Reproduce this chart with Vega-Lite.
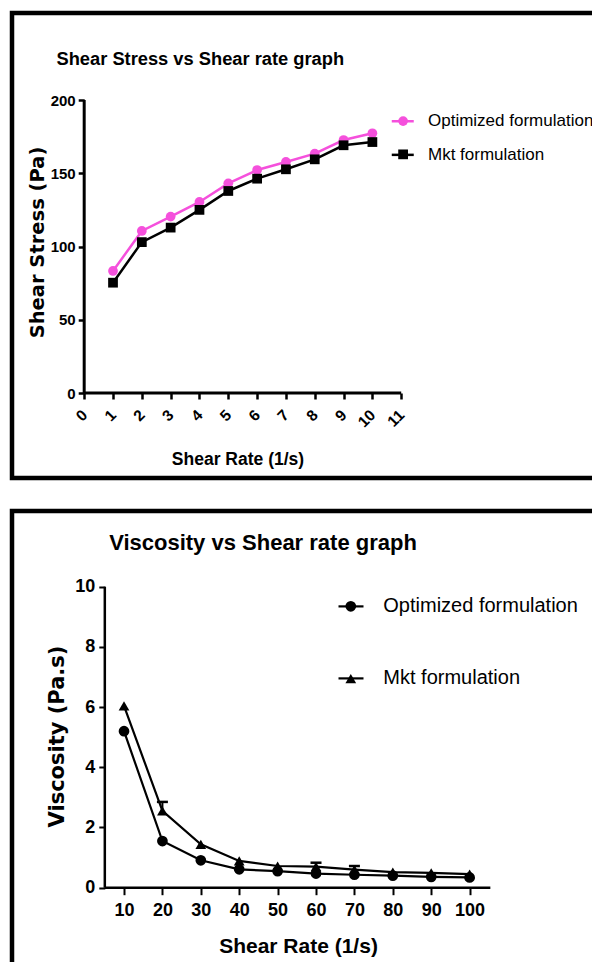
{
  "$schema": "https://vega.github.io/schema/vega-lite/v6.json",
  "background": "white",
  "padding": {"left": 9, "top": 10, "right": 0, "bottom": 0},
  "bounds": "flush",
  "spacing": 33,
  "resolve": {
    "scale": {"color": "independent", "fill": "independent", "shape": "independent"},
    "legend": {"color": "independent", "fill": "independent", "shape": "independent"}
  },
  "config": {
    "view": {"stroke": "black", "strokeWidth": 4.5},
    "axis": {
      "domain": false,
      "grid": false,
      "tickColor": "black",
      "tickWidth": 2.5,
      "tickSize": 6,
      "labelColor": "black",
      "titleColor": "black",
      "labelFontWeight": "bold",
      "titleFontWeight": "bold",
      "labelFlush": false,
      "labelOverlap": false,
      "labelBound": false
    },
    "legend": {"padding": 0, "titlePadding": 0, "labelColor": "black", "title": null}
  },
  "datasets": {
    "stress": [
      {"rate": 1, "stress": 83.3, "formulation": "Optimized formulation"},
      {"rate": 2, "stress": 110.6, "formulation": "Optimized formulation"},
      {"rate": 3, "stress": 120.4, "formulation": "Optimized formulation"},
      {"rate": 4, "stress": 130.4, "formulation": "Optimized formulation"},
      {"rate": 5, "stress": 143.1, "formulation": "Optimized formulation"},
      {"rate": 6, "stress": 152.2, "formulation": "Optimized formulation"},
      {"rate": 7, "stress": 157.7, "formulation": "Optimized formulation"},
      {"rate": 8, "stress": 163.4, "formulation": "Optimized formulation"},
      {"rate": 9, "stress": 172.7, "formulation": "Optimized formulation"},
      {"rate": 10, "stress": 177.3, "formulation": "Optimized formulation"},
      {"rate": 1, "stress": 75.3, "formulation": "Mkt formulation"},
      {"rate": 2, "stress": 103.0, "formulation": "Mkt formulation"},
      {"rate": 3, "stress": 112.9, "formulation": "Mkt formulation"},
      {"rate": 4, "stress": 125.0, "formulation": "Mkt formulation"},
      {"rate": 5, "stress": 137.9, "formulation": "Mkt formulation"},
      {"rate": 6, "stress": 146.3, "formulation": "Mkt formulation"},
      {"rate": 7, "stress": 152.7, "formulation": "Mkt formulation"},
      {"rate": 8, "stress": 159.5, "formulation": "Mkt formulation"},
      {"rate": 9, "stress": 169.1, "formulation": "Mkt formulation"},
      {"rate": 10, "stress": 171.3, "formulation": "Mkt formulation"}
    ],
    "viscosity": [
      {"rate": 10, "viscosity": 5.2, "formulation": "Optimized formulation"},
      {"rate": 20, "viscosity": 1.55, "formulation": "Optimized formulation"},
      {"rate": 30, "viscosity": 0.91, "formulation": "Optimized formulation"},
      {"rate": 40, "viscosity": 0.61, "formulation": "Optimized formulation"},
      {"rate": 50, "viscosity": 0.55, "formulation": "Optimized formulation"},
      {"rate": 60, "viscosity": 0.47, "formulation": "Optimized formulation"},
      {"rate": 70, "viscosity": 0.43, "formulation": "Optimized formulation"},
      {"rate": 80, "viscosity": 0.4, "formulation": "Optimized formulation"},
      {"rate": 90, "viscosity": 0.36, "formulation": "Optimized formulation"},
      {"rate": 100, "viscosity": 0.34, "formulation": "Optimized formulation"},
      {"rate": 10, "viscosity": 6.04, "formulation": "Mkt formulation"},
      {"rate": 20, "viscosity": 2.55, "formulation": "Mkt formulation"},
      {"rate": 30, "viscosity": 1.44, "formulation": "Mkt formulation"},
      {"rate": 40, "viscosity": 0.89, "formulation": "Mkt formulation"},
      {"rate": 50, "viscosity": 0.72, "formulation": "Mkt formulation"},
      {"rate": 60, "viscosity": 0.7, "formulation": "Mkt formulation"},
      {"rate": 70, "viscosity": 0.6, "formulation": "Mkt formulation"},
      {"rate": 80, "viscosity": 0.52, "formulation": "Mkt formulation"},
      {"rate": 90, "viscosity": 0.49, "formulation": "Mkt formulation"},
      {"rate": 100, "viscosity": 0.45, "formulation": "Mkt formulation"}
    ],
    "viscosityError": [
      {"rate": 20, "mean": 2.55, "upper": 2.85, "formulation": "Mkt formulation"},
      {"rate": 60, "mean": 0.7, "upper": 0.83, "formulation": "Mkt formulation"},
      {"rate": 70, "mean": 0.6, "upper": 0.72, "formulation": "Mkt formulation"}
    ]
  },
  "vconcat": [
    {
      "width": 600,
      "height": 465,
      "title": {
        "text": "Shear Stress vs Shear rate graph",
        "anchor": "start",
        "frame": "group",
        "align": "left",
        "baseline": "alphabetic",
        "dx": 44.5,
        "offset": -70.5,
        "font": "Liberation Sans, Arial, sans-serif",
        "fontSize": 18.3,
        "fontWeight": "bold",
        "color": "black"
      },
      "layer": [
        {
          "data": {"values": [{}]},
          "mark": {"type": "rule", "strokeWidth": 3, "color": "black"},
          "encoding": {
            "x": {
              "datum": 0, "type": "quantitative",
              "scale": {"domain": [-2.505, 18.314], "nice": false, "zero": false},
              "axis": {
                "values": [0, 1, 2, 3, 4, 5, 6, 7, 8, 9, 10, 11],
                "offset": -85,
                "labelAngle": -45,
                "labelAlign": "right",
                "labelBaseline": "middle",
                "labelPadding": 13,
                "labelFont": "Liberation Sans, Arial, sans-serif",
                "labelFontSize": 15.5,
                "title": "Shear Rate (1/s)",
                "titleFont": "Liberation Sans, Arial, sans-serif",
                "titleFontSize": 17.5,
                "titleX": 225.5,
                "titleY": 71,
                "titleAlign": "center",
                "titleBaseline": "alphabetic"
              }
            },
            "x2": {"datum": 11},
            "y": {
              "datum": 0, "type": "quantitative",
              "scale": {"domain": [-58.02, 259.39], "nice": false, "zero": false},
              "axis": {
                "values": [0, 50, 100, 150, 200],
                "offset": -72.2,
                "labelPadding": 3,
                "labelFont": "Liberation Sans, Arial, sans-serif",
                "labelFontSize": 15,
                "title": "Shear Stress (Pa)",
                "titleFont": "DejaVu Sans, sans-serif",
                "titleFontSize": 19.5,
                "titleAngle": 270,
                "titleX": -40.7,
                "titleY": 229,
                "titleAlign": "center",
                "titleBaseline": "alphabetic"
              }
            }
          }
        },
        {
          "data": {"values": [{}]},
          "mark": {"type": "rule", "strokeWidth": 3, "color": "black"},
          "encoding": {
            "x": {"datum": 0, "type": "quantitative", "scale": {"domain": [-2.505, 18.314], "nice": false, "zero": false}},
            "y": {"datum": 0, "type": "quantitative", "scale": {"domain": [-58.02, 259.39], "nice": false, "zero": false}},
            "y2": {"datum": 200}
          }
        },
        {
          "data": {"name": "stress"},
          "mark": {"type": "line", "strokeWidth": 2.5},
          "encoding": {
            "x": {"field": "rate", "type": "quantitative", "scale": {"domain": [-2.505, 18.314], "nice": false, "zero": false}},
            "y": {"field": "stress", "type": "quantitative", "scale": {"domain": [-58.02, 259.39], "nice": false, "zero": false}},
            "color": {
              "field": "formulation", "type": "nominal",
              "sort": ["Optimized formulation", "Mkt formulation"],
              "scale": {"range": ["#f550dc", "black"]},
              "legend": {
                "orient": "none",
                "legendX": 378.25,
                "legendY": 95.75,
                "symbolType": "stroke",
                "symbolSize": 484,
                "symbolStrokeWidth": 2.5,
                "rowPadding": 12.6,
                "labelOffset": 12.75,
                "labelFont": "Liberation Sans, Arial, sans-serif",
                "labelFontSize": 17,
                "labelLimit": 400
              }
            }
          }
        },
        {
          "data": {"name": "stress"},
          "mark": {"type": "point", "filled": true, "opacity": 1, "size": 95},
          "encoding": {
            "x": {"field": "rate", "type": "quantitative", "scale": {"domain": [-2.505, 18.314], "nice": false, "zero": false}},
            "y": {"field": "stress", "type": "quantitative", "scale": {"domain": [-58.02, 259.39], "nice": false, "zero": false}},
            "fill": {
              "field": "formulation", "type": "nominal",
              "scale": {"domain": ["Optimized formulation", "Mkt formulation"], "range": ["#f550dc", "black"]},
              "legend": {
                "orient": "none",
                "legendX": 386.1,
                "legendY": 103.1,
                "symbolSize": 95,
                "symbolStrokeWidth": 0,
                "rowPadding": 23.25,
                "labelOffset": 0,
                "labelFontSize": 1,
                "labelExpr": "''"
              }
            },
            "shape": {
              "field": "formulation", "type": "nominal",
              "scale": {"domain": ["Optimized formulation", "Mkt formulation"], "range": ["circle", "square"]},
              "legend": {
                "orient": "none",
                "legendX": 386.1,
                "legendY": 103.1,
                "symbolSize": 95,
                "symbolStrokeWidth": 0,
                "rowPadding": 23.25,
                "labelOffset": 0,
                "labelFontSize": 1,
                "labelExpr": "''"
              }
            }
          }
        }
      ]
    },
    {
      "width": 600,
      "height": 470,
      "title": {
        "text": "Viscosity vs Shear rate graph",
        "anchor": "start",
        "frame": "group",
        "align": "center",
        "baseline": "alphabetic",
        "dx": 251,
        "offset": -61,
        "font": "Liberation Sans, Arial, sans-serif",
        "fontSize": 22,
        "fontWeight": "bold",
        "color": "black"
      },
      "layer": [
        {
          "data": {"values": [{}]},
          "mark": {"type": "rule", "strokeWidth": 2.5, "color": "black"},
          "encoding": {
            "x": {
              "datum": 5, "type": "quantitative",
              "scale": {"domain": [-19.17, 137.08], "nice": false, "zero": false},
              "axis": {
                "values": [10, 20, 30, 40, 50, 60, 70, 80, 90, 100],
                "offset": -93.3,
                "tickWidth": 2,
                "tickSize": 7,
                "labelPadding": 7,
                "labelFont": "Liberation Sans, Arial, sans-serif",
                "labelFontSize": 18,
                "title": "Shear Rate (1/s)",
                "titleFont": "Liberation Sans, Arial, sans-serif",
                "titleFontSize": 21,
                "titleX": 286,
                "titleY": 65,
                "titleAlign": "center",
                "titleBaseline": "alphabetic"
              }
            },
            "x2": {"datum": 105.4},
            "y": {
              "datum": 0, "type": "quantitative",
              "scale": {"domain": [-3.1, 12.515], "nice": false, "zero": false},
              "axis": {
                "values": [0, 2, 4, 6, 8, 10],
                "offset": -92.8,
                "tickWidth": 2,
                "labelPadding": 4,
                "labelFont": "Liberation Sans, Arial, sans-serif",
                "labelFontSize": 18,
                "title": "Viscosity (Pa.s)",
                "titleFont": "DejaVu Sans, sans-serif",
                "titleFontSize": 21,
                "titleAngle": 270,
                "titleX": -41,
                "titleY": 225,
                "titleAlign": "center",
                "titleBaseline": "alphabetic"
              }
            }
          }
        },
        {
          "data": {"values": [{}]},
          "mark": {"type": "rule", "strokeWidth": 2.5, "color": "black"},
          "encoding": {
            "x": {"datum": 5, "type": "quantitative", "scale": {"domain": [-19.17, 137.08], "nice": false, "zero": false}},
            "y": {"datum": 0, "type": "quantitative", "scale": {"domain": [-3.1, 12.515], "nice": false, "zero": false}},
            "y2": {"datum": 10}
          }
        },
        {
          "data": {"name": "viscosity"},
          "mark": {"type": "line", "strokeWidth": 2.2},
          "encoding": {
            "x": {"field": "rate", "type": "quantitative", "scale": {"domain": [-19.17, 137.08], "nice": false, "zero": false}},
            "y": {"field": "viscosity", "type": "quantitative", "scale": {"domain": [-3.1, 12.515], "nice": false, "zero": false}},
            "color": {
              "field": "formulation", "type": "nominal",
              "sort": ["Optimized formulation", "Mkt formulation"],
              "scale": {"range": ["black", "black"]},
              "legend": {
                "orient": "none",
                "legendX": 325,
                "legendY": 81.4,
                "symbolType": "stroke",
                "symbolSize": 625,
                "symbolStrokeWidth": 2.2,
                "rowPadding": 48,
                "labelOffset": 18.3,
                "labelFont": "Liberation Sans, Arial, sans-serif",
                "labelFontSize": 20,
                "labelLimit": 400
              }
            }
          }
        },
        {
          "data": {"name": "viscosityError"},
          "mark": {"type": "rule", "strokeWidth": 2, "color": "black"},
          "encoding": {
            "x": {"field": "rate", "type": "quantitative", "scale": {"domain": [-19.17, 137.08], "nice": false, "zero": false}},
            "y": {"field": "mean", "type": "quantitative", "scale": {"domain": [-3.1, 12.515], "nice": false, "zero": false}},
            "y2": {"field": "upper"}
          }
        },
        {
          "data": {"name": "viscosityError"},
          "mark": {"type": "tick", "orient": "horizontal", "thickness": 2.5, "size": 11, "color": "black", "opacity": 1},
          "encoding": {
            "x": {"field": "rate", "type": "quantitative", "scale": {"domain": [-19.17, 137.08], "nice": false, "zero": false}},
            "y": {"field": "upper", "type": "quantitative", "scale": {"domain": [-3.1, 12.515], "nice": false, "zero": false}}
          }
        },
        {
          "data": {"name": "viscosity"},
          "mark": {"type": "point", "filled": true, "opacity": 1, "size": 115, "color": "black"},
          "encoding": {
            "x": {"field": "rate", "type": "quantitative", "scale": {"domain": [-19.17, 137.08], "nice": false, "zero": false}},
            "y": {"field": "viscosity", "type": "quantitative", "scale": {"domain": [-3.1, 12.515], "nice": false, "zero": false}},
            "shape": {
              "field": "formulation", "type": "nominal",
              "scale": {"domain": ["Optimized formulation", "Mkt formulation"], "range": ["circle", "triangle-up"]},
              "legend": {
                "orient": "none",
                "legendX": 333.3,
                "legendY": 89.8,
                "symbolSize": 115,
                "symbolStrokeWidth": 0,
                "symbolFillColor": "black",
                "rowPadding": 61.3,
                "labelOffset": 0,
                "labelFontSize": 1,
                "labelExpr": "''"
              }
            }
          }
        }
      ]
    }
  ]
}
